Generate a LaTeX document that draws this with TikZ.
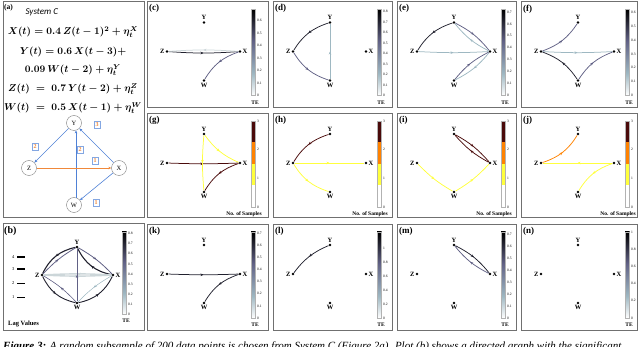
\documentclass[tikz,border=0pt]{standalone}
\usepackage{fontspec}
\setmainfont{Liberation Serif}
\newfontfamily\calibri{Carlito}
\usepackage{amsmath}
\usetikzlibrary{arrows.meta,decorations.markings}

\definecolor{panelgray}{HTML}{707070}
\definecolor{teblack}{rgb}{0.13,0.13,0.18}
\definecolor{temid}{rgb}{0.38,0.38,0.52}
\definecolor{telight}{rgb}{0.62,0.72,0.76}
\definecolor{tepale}{rgb}{0.80,0.84,0.85}
\definecolor{nsbrown}{HTML}{4A0A0A}
\definecolor{nsorange}{HTML}{FF8200}
\definecolor{nsyellow}{HTML}{FFFF3C}
\definecolor{ablue}{HTML}{4F81D6}
\definecolor{aorange}{HTML}{F0883A}

% TE colour bar (white -> teal -> slate -> black)
\pgfdeclareverticalshading{boner}{100bp}{color(0bp)=(white); color(25bp)=(white);
  color(37.7bp)=(telight); color(56.7bp)=(temid); color(75bp)=(black); color(100bp)=(black)}

\tikzset{
  panel/.style={draw=panelgray, line width=0.9pt},
  plabel/.style={font=\bfseries\fontsize{9}{10}\selectfont, inner sep=0pt, anchor=north west},
  dot/.style={circle, fill=black, inner sep=0pt, minimum size=2.8pt},
  lbl/.style={font=\bfseries\fontsize{6.5}{7}\selectfont, inner sep=0.8pt},
  ticklbl/.style={font=\fontsize{3.6}{4}\selectfont, anchor=west, inner sep=0pt},
  barname/.style={font=\bfseries\fontsize{5.5}{6}\selectfont, inner sep=0pt},
  midarrow/.style={postaction={decorate}, decoration={markings,
      mark=at position 0.5 with {\arrow{Stealth[length=3pt,width=2.6pt]}}}},
  tedge/.style={line width=0.75pt, midarrow},
  nedge/.style={line width=0.75pt, midarrow},
  anode/.style={circle, draw=gray, fill=white, minimum size=15pt, inner sep=0pt,
      font=\fontsize{6.5}{7}\selectfont},
  aedge/.style={ablue, line width=0.6pt, -{Stealth[length=3pt,width=2.6pt]}},
  lagbox/.style={draw=ablue!70, text=aorange, font=\bfseries\fontsize{6}{6}\selectfont,
      minimum width=6.5pt, minimum height=7pt, inner sep=0pt, fill=white},
  eqn/.style={font=\boldmath\fontsize{9.6}{11}\selectfont, inner sep=0pt}
}

% the four variables of a graph panel
\newcommand{\gnodes}[1]{%
  \node[dot, label={[lbl]above:Y}] (#1Y) at (57,21) {};
  \node[dot, label={[lbl]left:Z}] (#1Z) at (20,50) {};
  \node[dot, label={[lbl]right:X}] (#1X) at (93,50) {};
  \node[dot, label={[lbl]below:W}] (#1W) at (57,79) {};
}
% continuous TE bar: #1 max value, #2 ticks
\newcommand{\tebar}[2]{%
  \shade[shading=boner] (104,8) rectangle (108.5,94);
  \draw[gray!60, line width=0.3pt] (104,8) rectangle (108.5,94);
  \foreach \v in {#2} \node[ticklbl] at (110,{94-86*\v/#1}) {\v};
  \node[barname] at (108,101) {TE};
}
% discrete bar for the number of samples
\newcommand{\nsbar}{%
  \fill[nsbrown] (104,8) rectangle (108.5,29.5);
  \fill[nsorange] (104,29.5) rectangle (108.5,51);
  \fill[nsyellow] (104,51) rectangle (108.5,72.5);
  \draw[gray!60, line width=0.3pt] (104,8) rectangle (108.5,94);
  \foreach \v in {0,1,2,3} \node[ticklbl] at (110,{94-86*\v/3}) {\v};
  \node[barname, anchor=east] at (115,101) {No. of Samples};
}

\begin{document}
\begin{tikzpicture}[x=1pt, y=-1pt]
  \useasboundingbox (0,0) rectangle (640,347);
  \clip (0,0) rectangle (640,347);

  % (a) system and true graph
  \begin{scope}[shift={(3,1)}]
    \draw[panel] (0,0) rectangle (141,216);
    \node[plabel, font=\bfseries\fontsize{7.5}{8}\selectfont] (atitle) at (1,3) {(a)};
    \node[anchor=west, font=\calibri\itshape\fontsize{9}{10}\selectfont] (asys) at (19,11) {System C};
    \node[eqn] (eq1) at (70,31) {$X(t) = 0.4\,Z(t-1)^2 + \eta_t^X$};
    \node[eqn] (eq2) at (70,51) {$Y(t) = 0.6\,X(t-3) +$};
    \node[eqn] (eq3) at (70,69) {$0.09\,W(t-2) + \eta_t^Y$};
    \node[eqn] (eq4) at (70,88) {$Z(t) \;=\; 0.7\,Y(t-2) + \eta_t^Z$};
    \node[eqn] (eq5) at (70,107) {$W(t) \;=\; 0.5\,X(t-1) + \eta_t^W$};

    \node[anode] (aY) at (71,122) {Y};
    \node[anode] (aZ) at (26,167) {Z};
    \node[anode] (aX) at (116,167) {X};
    \node[anode] (aW) at (71,204) {W};
    \draw[aedge] (aY) -- (aZ);
    \draw[aedge] (aX) -- (aY);
    \draw[aedge] (aW.75) -- (aY.285);
    \draw[aedge, aorange] (aZ) -- (aX);
    \draw[aedge] (aX) -- (aW);
    \node[lagbox] (lyz) at (32,146) {2};
    \node[lagbox] (lxy) at (94,124) {3};
    \node[lagbox] (lwy) at (77,149) {2};
    \node[lagbox] (lzx) at (92,160) {1};
    \node[lagbox] (lxw) at (93,202) {1};
  \end{scope}

  % (b) all lags
  \begin{scope}[shift={(3,223)}]
    \draw[panel] (0,0) rectangle (141,107);
    \node[plabel, font=\bfseries\fontsize{10}{10}\selectfont] (btitle) at (1,3) {(b)};
    \node[dot, label={[lbl]above:Y}] (bY) at (74,24) {};
    \node[dot, label={[lbl]left:Z}] (bZ) at (39,52) {};
    \node[dot, label={[lbl]right:X}] (bX) at (110,52) {};
    \node[dot, label={[lbl]below:W}] (bW) at (74,80) {};
    \draw[tedge, teblack, line width=1.1pt] (bY) to[bend right=26] (bZ);
    \draw[tedge, temid, line width=0.8pt] (bZ) to[bend left=8] (bY);
    \draw[tedge, teblack, line width=1.1pt] (bX) to[bend left=26] (bY);
    \draw[tedge, temid, line width=0.8pt] (bY) to[bend left=8] (bX);
    \draw[tedge, teblack, line width=0.9pt] (bZ) to[bend right=26] (bW);
    \draw[tedge, temid, line width=0.6pt] (bW) to[bend right=8] (bZ);
    \draw[tedge, teblack, line width=0.9pt] (bW) to[bend right=26] (bX);
    \draw[tedge, telight, line width=0.5pt] (bX) to[bend right=8] (bW);
    \draw[tedge, tepale, line width=1.4pt] (bZ) to[bend right=3] (bX);
    \draw[tedge, tepale, line width=1.4pt] (bX) to[bend right=3] (bZ);
    \draw[tedge, temid, line width=0.4pt] (bW) -- (bY);
    % lag legend
    \foreach \lag/\w/\y in {4/1.6/34, 3/1.2/46, 2/0.8/60, 1/0.4/74}{
      \node[ticklbl, font=\fontsize{4.5}{5}\selectfont] (lag\lag) at (9,\y) {\lag};
      \draw[line width=\w pt] (14,\y) -- (22,\y);
    }
    \node[barname, font=\bfseries\fontsize{6.5}{7}\selectfont, anchor=west] (lagv) at (5,101) {Lag Values};
    \begin{scope}[shift={(15,1)}, yscale=0.96]
      \tebar{0.82}{0,0.1,0.2,0.3,0.4,0.5,0.6,0.7,0.8}
    \end{scope}
  \end{scope}

  % ---- row 1: TE graphs ----
  \begin{scope}[shift={(147,1.5)}]
    \draw[panel] (0,0) rectangle (121,105.5);
    \node[plabel] (ctitle) at (2,3) {(c)};
    \gnodes{c}
    \draw[tedge, teblack] (cZ) to[bend right=4] (cX);
    \draw[tedge, tepale] (cX) to[bend right=4] (cZ);
    \draw[tedge, temid] (cX) to[bend right=20] (cW);
    \tebar{0.69}{0,0.1,0.2,0.3,0.4,0.5,0.6}
  \end{scope}

  \begin{scope}[shift={(273,1.5)}]
    \draw[panel] (0,0) rectangle (119,105.5);
    \node[plabel] (dtitle) at (2,3) {(d)};
    \gnodes{d}
    \draw[tedge, teblack] (dY) to[bend right=20] (dZ);
    \draw[tedge, temid] (dZ) to[bend right=20] (dW);
    \draw[tedge, telight] (dW) -- (dY);
    \tebar{0.82}{0,0.1,0.2,0.3,0.4,0.5,0.6,0.7,0.8}
  \end{scope}

  \begin{scope}[shift={(397,1.5)}]
    \draw[panel] (0,0) rectangle (119,105.5);
    \node[plabel] (etitle) at (2,3) {(e)};
    \gnodes{e}
    \draw[tedge, teblack] (eY) to[bend right=20] (eZ);
    \draw[tedge, telight] (eZ) to[bend right=3] (eX);
    \draw[tedge, temid] (eY) to[bend left=12] (eX);
    \draw[tedge, telight] (eX) to[bend left=12] (eY);
    \draw[tedge, telight] (eX) to[bend left=12] (eW);
    \draw[tedge, temid] (eW) to[bend left=12] (eX);
    \tebar{0.72}{0,0.1,0.2,0.3,0.4,0.5,0.6,0.7}
  \end{scope}

  \begin{scope}[shift={(521,1.5)}]
    \draw[panel] (0,0) rectangle (116,105.5);
    \node[plabel] (ftitle) at (2,3) {(f)};
    \gnodes{f}
    \draw[tedge, temid] (fZ) to[bend right=18] (fY);
    \draw[tedge, telight] (fZ) to[bend right=3] (fX);
    \draw[tedge, teblack] (fW) to[bend right=18] (fZ);
    \draw[tedge, temid] (fW) to[bend left=18] (fX);
    \tebar{0.62}{0,0.1,0.2,0.3,0.4,0.5,0.6}
  \end{scope}

  % ---- row 2: number of samples ----
  \begin{scope}[shift={(147,113)}]
    \draw[panel] (0,0) rectangle (121,104.5);
    \node[plabel] (gtitle) at (2,3) {(g)};
    \gnodes{g}
    \draw[nedge, nsbrown] (gZ) to[bend right=2] (gX);
    \draw[nedge, nsyellow] (gY) to[bend right=15] (gX);
    \draw[nedge, nsyellow] (gY) to[bend right=5] (gW);
    \draw[nedge, nsbrown] (gX) to[bend right=20] (gW);
    \nsbar
  \end{scope}

  \begin{scope}[shift={(273,113)}]
    \draw[panel] (0,0) rectangle (119,104.5);
    \node[plabel] (htitle) at (2,3) {(h)};
    \gnodes{h}
    \draw[nedge, nsbrown] (hY) to[bend right=20] (hZ);
    \draw[nedge, nsyellow] (hZ) -- (hX);
    \draw[nedge, nsyellow] (hZ) to[bend right=20] (hW);
    \nsbar
  \end{scope}

  \begin{scope}[shift={(397,113)}]
    \draw[panel] (0,0) rectangle (119,104.5);
    \node[plabel] (ititle) at (2,3) {(i)};
    \gnodes{i}
    \draw[nedge, nsbrown] (iY) to[bend left=10] (iX);
    \draw[nedge, nsbrown] (iX) to[bend left=10] (iY);
    \draw[nedge, nsyellow] (iZ) to[bend right=8] (iW);
    \draw[nedge, nsyellow] (iW) to[bend right=8] (iX);
    \nsbar
  \end{scope}

  \begin{scope}[shift={(521,113)}]
    \draw[panel] (0,0) rectangle (116,104.5);
    \node[plabel] (jtitle) at (2,3) {(j)};
    \gnodes{j}
    \draw[nedge, nsorange] (jZ) to[bend right=20] (jY);
    \draw[nedge, nsyellow] (jX) -- (jZ);
    \draw[nedge, nsyellow] (jX) to[bend right=20] (jW);
    \nsbar
  \end{scope}

  % ---- row 3: TE graphs ----
  \begin{scope}[shift={(147,224)}]
    \draw[panel] (0,0) rectangle (121,106);
    \node[plabel] (ktitle) at (2,3) {(k)};
    \gnodes{k}
    \draw[tedge, teblack] (kZ) to[bend right=2] (kX);
    \draw[tedge, teblack] (kX) to[bend right=20] (kW);
    \tebar{0.71}{0,0.1,0.2,0.3,0.4,0.5,0.6,0.7}
  \end{scope}

  \begin{scope}[shift={(273,224)}]
    \draw[panel] (0,0) rectangle (119,106);
    \node[plabel] (ltitle) at (2,3) {(l)};
    \gnodes{l}
    \draw[tedge, teblack] (lY) to[bend right=15] (lZ);
    \tebar{1.23}{0,0.2,0.4,0.6,0.8,1}
  \end{scope}

  \begin{scope}[shift={(397,224)}]
    \draw[panel] (0,0) rectangle (119,106);
    \node[plabel] (mtitle) at (2,3) {(m)};
    \gnodes{m}
    \draw[tedge, teblack] (mY) to[bend left=12] (mX);
    \draw[tedge, temid] (mX) to[bend left=12] (mY);
    \tebar{0.72}{0,0.1,0.2,0.3,0.4,0.5,0.6,0.7}
  \end{scope}

  \begin{scope}[shift={(521,224)}]
    \draw[panel] (0,0) rectangle (116,106);
    \node[plabel] (ntitle) at (2,3) {(n)};
    \gnodes{n}
    \tebar{1}{0,0.2,0.4,0.6,0.8,1}
  \end{scope}

  % caption, cut by the page edge
  \node[anchor=base west, inner sep=0pt, font=\itshape\fontsize{11}{11}\selectfont] (caption) at (3,349)
    {\textbf{Figure 3:} A random subsample of 200 data points is chosen from System C (Figure 2a). Plot (b) shows a directed graph with the significant};
\end{tikzpicture}
\end{document}
